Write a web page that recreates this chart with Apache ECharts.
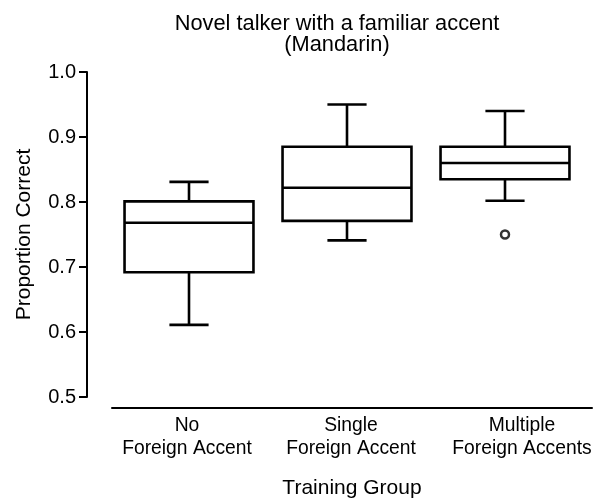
<!DOCTYPE html>
<html>
<head>
<meta charset="utf-8">
<script src="https://cdn.jsdelivr.net/npm/echarts@6/dist/echarts.min.js"></script>
<style>html,body{margin:0;padding:0;background:#fff;}#c{width:594px;height:500px;}</style>
</head>
<body>
<div id="c"></div>
<script>
const categories = ['No\nForeign Accent', 'Single\nForeign Accent', 'Multiple\nForeign Accents'];
// [lower whisker, Q1, median, Q3, upper whisker]
const boxNo = [0.611, 0.692, 0.768, 0.801, 0.831];
const boxSingle = [0.741, 0.771, 0.822, 0.885, 0.950];
const boxMultiple = [0.802, 0.835, 0.860, 0.885, 0.940];
const outliers = [[2, 0.750]];
const yTicks = [0.5, 0.6, 0.7, 0.8, 0.9, 1.0];

const FONT = "'Liberation Sans', Arial, sans-serif";
const boxes = [boxNo, boxSingle, boxMultiple];
const boxData = boxes.map((b, i) => [i].concat(b));

const chart = echarts.init(document.getElementById('c'), null, {renderer: 'canvas'});
const LW = 2.6;
const labStyle = {fontFamily: FONT, fontSize: 19.3, lineHeight: 23, color: '#000'};
chart.setOption({
  animation: false,
  backgroundColor: '#fff',
  title: {
    text: 'Novel talker with a familiar accent\n(Mandarin)',
    left: 332, top: 8, textAlign: 'center',
    textStyle: {fontFamily: FONT, fontSize: 21.8, lineHeight: 21, fontWeight: 'normal', color: '#000'}
  },
  grid: [
    {left: 110, right: 10, top: 72, bottom: 103, outerBoundsMode: 'none', containLabel: false},
    {left: 112, right: 2, top: 72, bottom: 103, outerBoundsMode: 'none', containLabel: false}
  ],
  xAxis: [
    {type: 'category', gridIndex: 0, data: categories, show: false},
    {type: 'category', gridIndex: 1, data: categories, offset: 11,
     axisLine: {show: true, lineStyle: {color: '#000', width: 2}},
     axisTick: {show: false},
     axisLabel: Object.assign({}, labStyle, {margin: 6, interval: 0,
       formatter: (v, i) => v.split('\n').map(s => '{c' + i + '|' + s + '}').join('\n'),
       rich: {
         c0: Object.assign({}, labStyle, {padding: [0, 10, 0, 0]}),
         c1: Object.assign({}, labStyle, {padding: [0, 2, 0, 0]}),
         c2: Object.assign({}, labStyle, {padding: [0, 0, 0, 20]})
       }}),
     name: 'Training Group', nameLocation: 'middle', nameGap: 70,
     nameTextStyle: {fontFamily: FONT, fontSize: 21, color: '#000'}}
  ],
  yAxis: [
    {type: 'value', gridIndex: 0, min: yTicks[0], max: yTicks[yTicks.length - 1], interval: 0.1, offset: 23,
     axisLine: {show: true, lineStyle: {color: '#000', width: 2}},
     axisTick: {show: true, length: 8, lineStyle: {color: '#000', width: 2}},
     splitLine: {show: false},
     axisLabel: {fontFamily: FONT, fontSize: 20, color: '#000', margin: 11, formatter: v => v.toFixed(1)},
     name: 'Proportion Correct', nameLocation: 'middle', nameGap: 52,
     nameTextStyle: {fontFamily: FONT, fontSize: 21, color: '#000'}},
    {type: 'value', gridIndex: 1, min: 0.5, max: 1.0, show: false}
  ],
  series: [
    {
      type: 'custom', xAxisIndex: 0, yAxisIndex: 0,
      data: boxData,
      encode: {x: 0, y: [1, 2, 3, 4, 5]},
      renderItem: function (params, api) {
        const xi = api.value(0);
        const band = api.size([1, 0])[0];
        const hw = band * 0.408, cw = band * 0.124;
        const p = [1, 2, 3, 4, 5].map(k => api.coord([xi, api.value(k)]));
        const cx = p[0][0];
        const st = {stroke: '#000', lineWidth: LW, fill: null};
        const line = (x1, y1, x2, y2) => ({type: 'line', shape: {x1, y1, x2, y2}, style: st});
        return {type: 'group', children: [
          line(cx, p[0][1], cx, p[1][1]),
          line(cx, p[3][1], cx, p[4][1]),
          line(cx - cw, p[0][1], cx + cw, p[0][1]),
          line(cx - cw, p[4][1], cx + cw, p[4][1]),
          {type: 'rect', shape: {x: cx - hw, y: p[3][1], width: 2 * hw, height: p[1][1] - p[3][1]}, style: {stroke: '#000', lineWidth: LW, fill: '#fff'}},
          line(cx - hw, p[2][1], cx + hw, p[2][1])
        ]};
      }
    },
    {
      type: 'scatter', xAxisIndex: 0, yAxisIndex: 0,
      data: outliers, symbol: 'circle', symbolSize: 8,
      itemStyle: {color: '#fff', borderColor: '#000', borderWidth: 2.5}
    }
  ]
});
</script>
</body>
</html>
